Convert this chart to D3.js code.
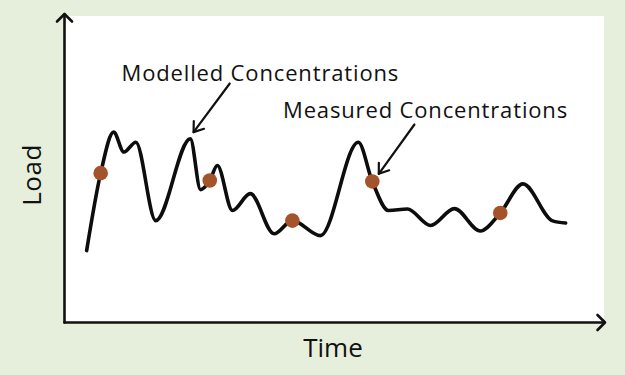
<!DOCTYPE html>
<html>
<head>
<meta charset="utf-8">
<script src="https://cdn.jsdelivr.net/npm/d3@7"></script>
<style>
  body { margin: 0; background: #e6efdc; }
  text { font-family: "Open Sans", sans-serif; fill: #111; }
</style>
</head>
<body>
<svg class="chart" width="625" height="375"></svg>
<script>
// modelled curve, key points (time, load)
var time = [4.1, 6.7, 9.1, 11.0, 13.2, 16.9, 23.3, 25.2, 26.9, 28.3, 31.1, 34.4, 38.8, 42.2, 47.4,
            54.4, 57.0, 60.0, 63.5, 67.8, 72.2, 77.0, 80.7, 84.9, 90.4, 92.8];
var load = [23.5, 48.8, 62.2, 55.7, 58.9, 33.3, 60.0, 43.4, 46.4, 51.3, 36.6, 42.1, 29.0, 33.3, 28.4,
            58.9, 46.1, 36.6, 37.1, 31.7, 37.2, 29.9, 35.8, 45.3, 33.2, 32.5];

// measured samples
var sampleTime = [6.7, 26.9, 42.2, 57.0, 80.7];
var sampleLoad = [48.8, 46.4, 33.3, 46.1, 35.8];

var labels = ["Modelled Concentrations", "Measured Concentrations"];
// arrow tail / tip in data units
var arrowFrom = [[30.6, 78.1], [64.8, 64.7]];
var arrowTo = [[23.9, 62.2], [58.2, 48.6]];

var svg = d3.select(".chart");

var x = d3.scaleLinear().domain([0, 100]).range([64.5, 604.5]);
var y = d3.scaleLinear().domain([0, 100]).range([322.5, 16.5]);

// white plot area
svg.append("rect")
  .attr("x", 64).attr("y", 16)
  .attr("width", 540).attr("height", 307)
  .attr("fill", "#fff");

// axes with open arrowheads
var axisG = svg.append("g")
  .attr("fill", "none").attr("stroke", "#111")
  .attr("stroke-width", 2.6).attr("stroke-linecap", "round").attr("stroke-linejoin", "round");

axisG.append("path")
  .attr("d", "M" + x(0) + "," + y(0) + "V" + (y(100) - 2));
axisG.append("path")
  .attr("d", "M" + x(0) + "," + y(0) + "H" + x(100));
axisG.append("path") // top arrow
  .attr("d", "M" + (x(0) - 7.5) + "," + (y(100) + 5) + "L" + x(0) + "," + (y(100) - 2.5) + "L" + (x(0) + 7.5) + "," + (y(100) + 5));
axisG.append("path") // right arrow
  .attr("d", "M" + (x(100) - 7) + "," + (y(0) - 7.5) + "L" + (x(100) + 0.5) + "," + y(0) + "L" + (x(100) - 7) + "," + (y(0) + 7.5));

// modelled line
var line = d3.line()
  .x(function(d, i) { return x(time[i]); })
  .y(function(d, i) { return y(load[i]); })
  .curve(d3.curveMonotoneX);

svg.append("path")
  .datum(load)
  .attr("d", line)
  .attr("fill", "none")
  .attr("stroke", "#0d0d0d")
  .attr("stroke-width", 3.6)
  .attr("stroke-linecap", "round");

// measured dots
svg.selectAll(".sample")
  .data(sampleLoad)
  .enter().append("circle")
  .attr("class", "sample")
  .attr("cx", function(d, i) { return x(sampleTime[i]); })
  .attr("cy", function(d) { return y(d); })
  .attr("r", 7.3)
  .attr("fill", "#a4532b");

// annotation arrows
arrowFrom.forEach(function(a, i) {
  var x1 = x(a[0]), y1 = y(a[1]), x2 = x(arrowTo[i][0]), y2 = y(arrowTo[i][1]);
  var ang = Math.atan2(y2 - y1, x2 - x1), len = 11, spread = 0.62;
  var g = svg.append("g")
    .attr("fill", "none").attr("stroke", "#111").attr("stroke-width", 2.2)
    .attr("stroke-linecap", "round").attr("stroke-linejoin", "round");
  g.append("path").attr("d", "M" + x1 + "," + y1 + "L" + x2 + "," + y2);
  g.append("path").attr("d",
    "M" + (x2 - len * Math.cos(ang - spread)) + "," + (y2 - len * Math.sin(ang - spread)) +
    "L" + x2 + "," + y2 +
    "L" + (x2 - len * Math.cos(ang + spread)) + "," + (y2 - len * Math.sin(ang + spread)));
});

svg.append("text")
  .attr("x", 121.5).attr("y", 80.5)
  .style("font-size", "22px")
  .style("letter-spacing", "0.85px")
  .text(labels[0]);

svg.append("text")
  .attr("x", 283).attr("y", 117.5)
  .style("font-size", "22px")
  .style("letter-spacing", "0.85px")
  .text(labels[1]);

svg.append("text") // x label
  .attr("x", 333).attr("y", 357)
  .attr("text-anchor", "middle")
  .style("font-size", "26px")
  .text("Time");

svg.append("text") // y label
  .attr("transform", "translate(41,175) rotate(-90)")
  .attr("text-anchor", "middle")
  .style("font-size", "26px")
  .style("letter-spacing", "0.5px")
  .text("Load");
</script>
</body>
</html>
